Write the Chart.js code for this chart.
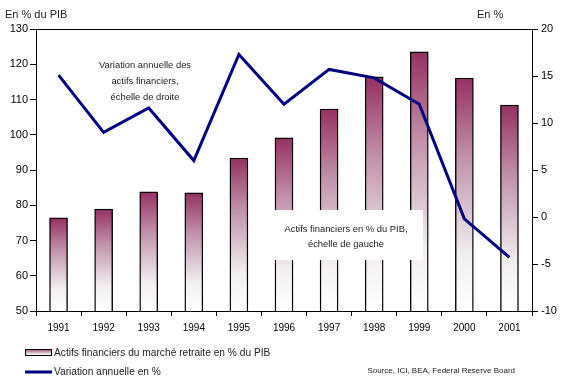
<!DOCTYPE html>
<html>
<head>
<meta charset="utf-8">
<script src="https://cdn.jsdelivr.net/npm/chart.js@4/dist/chart.umd.min.js"></script>
<style>
  body { margin: 0; background: #fff; }
  #wrap { width: 565px; height: 384px; }
</style>
</head>
<body>
<div id="wrap"><canvas id="c" width="565" height="384"></canvas></div>
<script>
const years = ['1991', '1992', '1993', '1994', '1995', '1996', '1997', '1998', '1999', '2000', '2001'];
// actifs financiers du marché retraite, en % du PIB (échelle de gauche)
const actifsPib = [76.4, 78.9, 83.8, 83.5, 93.4, 99.1, 107.3, 116.4, 123.5, 116.1, 108.4];
// variation annuelle en % (échelle de droite)
const variation = [15.1, 9.0, 11.6, 6.0, 17.3, 12.0, 15.7, 14.8, 12.0, -0.2, -4.3];

const leftTicks = { min: 50, max: 130, step: 10 };
const rightTicks = { min: -10, max: 20, step: 5 };

const regular = "'Liberation Sans', Arial, sans-serif";

function barGradient(ctx2d, top, bottom) {
  const g = ctx2d.createLinearGradient(0, top, 0, bottom);
  g.addColorStop(0, '#963063');
  g.addColorStop(0.35, '#c293ab');
  g.addColorStop(0.75, '#f1ecf0');
  g.addColorStop(1, '#ffffff');
  return g;
}

const notes = {
  id: 'notes',
  afterDatasetsDraw(chart) {
    const ctx = chart.ctx;
    const a = chart.chartArea;
    ctx.save();
    // cadre du graphique (haut)
    ctx.strokeStyle = '#000';
    ctx.lineWidth = 1;
    ctx.beginPath();
    ctx.moveTo(a.left, a.top + 0.5);
    ctx.lineTo(a.right, a.top + 0.5);
    ctx.stroke();

    ctx.fillStyle = '#222';
    ctx.textAlign = 'center';
    ctx.textBaseline = 'middle';
    ctx.font = '9.4px ' + regular;
    ctx.fillText('Variation annuelle des', 145, 65);
    ctx.fillText('actifs financiers,', 145, 81);
    ctx.fillText('échelle de droite', 145, 97);

    ctx.fillStyle = '#fff';
    ctx.fillRect(268, 210, 155, 50);
    ctx.fillStyle = '#222';
    ctx.fillText('Actifs financiers en % du PIB,', 346, 229);
    ctx.fillText('échelle de gauche', 346, 244);

    // titres des axes
    ctx.font = '11px ' + regular;
    ctx.textAlign = 'left';
    ctx.fillText('En % du PIB', 5, 15);
    ctx.fillText('En %', 477, 15);

    // légende
    ctx.fillStyle = barGradient(ctx, 349, 356);
    ctx.fillRect(25, 349, 27, 7);
    ctx.strokeStyle = '#000';
    ctx.strokeRect(25.5, 349.5, 26, 6);
    ctx.strokeStyle = '#000080';
    ctx.lineWidth = 3;
    ctx.beginPath();
    ctx.moveTo(25, 372);
    ctx.lineTo(52, 372);
    ctx.stroke();
    ctx.fillStyle = '#222';
    ctx.font = '10.2px ' + regular;
    ctx.fillText('Actifs financiers du marché retraite en % du PIB', 54, 353);
    ctx.fillText('Variation annuelle en %', 54, 372);

    ctx.font = '8px ' + regular;
    ctx.textAlign = 'right';
    ctx.fillText('Source, ICI, BEA, Federal Reserve Board', 515, 371);
    ctx.restore();
  }
};

new Chart(document.getElementById('c'), {
  type: 'bar',
  data: {
    labels: years,
    datasets: [
      {
        type: 'line',
        label: 'Variation annuelle en %',
        data: variation,
        yAxisID: 'y1',
        borderColor: '#000080',
        borderWidth: 3,
        pointRadius: 0,
        tension: 0,
        order: 0
      },
      {
        label: 'Actifs financiers du marché retraite en % du PIB',
        data: actifsPib,
        yAxisID: 'y',
        backgroundColor: (c) => {
          const ch = c.chart;
          if (!ch.chartArea || c.raw === undefined) return '#993366';
          const top = ch.scales.y.getPixelForValue(c.raw);
          return barGradient(ch.ctx, top, ch.chartArea.bottom);
        },
        borderColor: '#000',
        borderWidth: 1.4,
        borderSkipped: false,
        barThickness: 18,
        order: 1
      }
    ]
  },
  plugins: [notes],
  options: {
    responsive: false,
    animation: false,
    layout: { padding: { top: 29, left: 0, right: 0, bottom: 0 } },
    plugins: {
      legend: { display: false },
      tooltip: { enabled: false }
    },
    scales: {
      x: {
        offset: true,
        afterFit: (s) => { s.height = 73; },
        grid: { offset: true, drawOnChartArea: false, tickLength: 5, color: '#000' },
        border: { color: '#000' },
        ticks: { color: '#000', font: { family: regular, size: 10 }, padding: 6, maxRotation: 0 }
      },
      y: {
        position: 'left',
        min: leftTicks.min,
        max: leftTicks.max,
        afterFit: (s) => { s.width = 36; },
        grid: { drawOnChartArea: false, tickLength: 6, color: '#000' },
        border: { color: '#000' },
        ticks: { stepSize: leftTicks.step, color: '#000', font: { family: regular, size: 11 }, padding: 2 }
      },
      y1: {
        position: 'right',
        min: rightTicks.min,
        max: rightTicks.max,
        afterFit: (s) => { s.width = 33; },
        grid: { drawOnChartArea: false, tickLength: 6, color: '#000' },
        border: { color: '#000' },
        ticks: { stepSize: rightTicks.step, color: '#000', font: { family: regular, size: 11 }, padding: 3 }
      }
    }
  }
});
</script>
</body>
</html>
